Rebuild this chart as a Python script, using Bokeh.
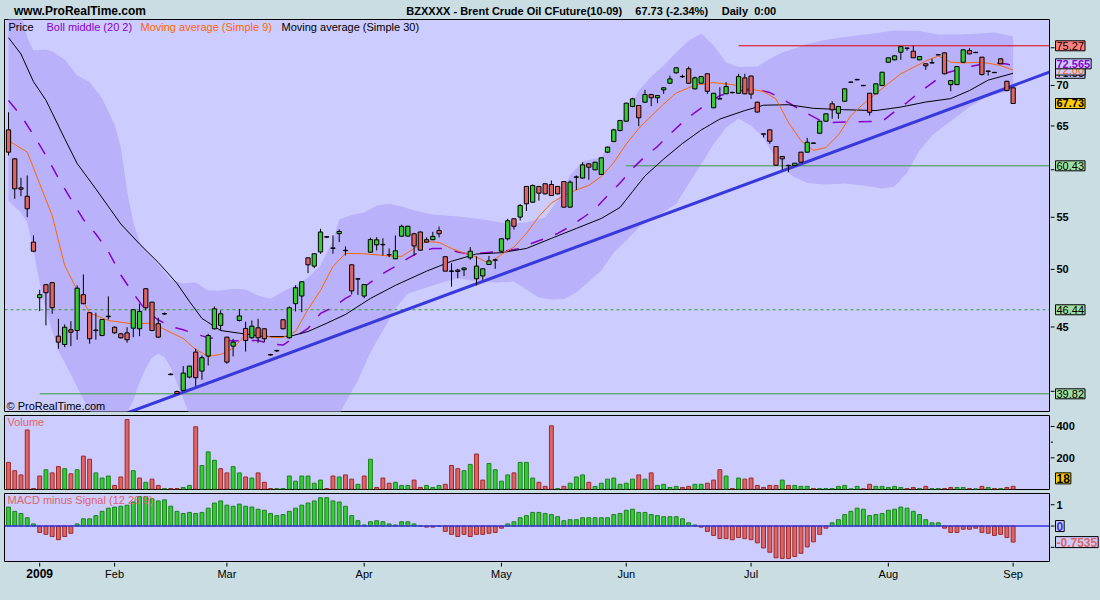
import math
from bokeh.plotting import figure
from bokeh.layouts import column, row
from bokeh.models import (Range1d, Label, Span, ColumnDataSource, GlobalInlineStyleSheet)
from bokeh.core.properties import value
from bokeh.embed import file_html
from bokeh.resources import INLINE

# ---------------- data ----------------
opens = [64.54,61.21,58.05,57.16,52.56,47.47,48.62,48.80,44.25,43.58,
 44.77,44.71,47.74,46.19,44.75,44.30,45.85,44.98,44.44,44.52,
 44.90,44.85,48.26,47.09,45.27,46.08,41.28,39.99,40.07,41.06,
 42.98,41.51,42.67,44.85,45.13,44.17,43.45,45.54,44.88,44.12,
 44.93,44.85,42.79,43.07,45.60,44.12,46.96,47.62,51.07,50.30,
 51.62,53.08,52.00,53.38,51.78,50.42,49.12,47.62,51.60,52.30,
 52.30,51.38,50.98,53.13,53.14,53.37,53.54,52.79,52.79,53.69,
 51.17,49.86,49.93,49.97,51.07,49.15,49.40,50.45,50.85,51.69,
 52.88,54.85,55.02,58.19,56.54,58.19,58.48,58.40,58.19,58.72,
 56.03,59.18,59.09,60.65,59.99,59.48,61.96,63.18,64.46,65.57,
 67.36,67.48,67.89,68.85,68.44,69.44,70.29,71.64,71.13,72.17,
 69.57,70.29,71.51,67.20,68.29,68.94,69.12,69.01,70.98,71.22,
 67.89,64.07,64.54,62.60,61.47,60.48,60.46,61.96,61.96,62.97,
 64.14,65.57,67.69,66.53,68.01,70.40,70.72,70.01,69.01,68.94,
 69.99,73.04,73.36,74.39,74.96,74.53,73.36,72.83,72.94,74.02,
 74.31,70.11,70.11,73.04,74.62,74.33,73.72,71.87,71.70,73.50,
 70.54,69.70]
highs = [66.65,61.30,59.12,59.37,53.21,48.17,48.65,48.85,45.68,45.21,
 45.48,48.56,49.54,46.20,46.19,45.65,47.59,45.05,44.50,44.98,
 46.50,46.96,48.30,47.10,45.77,46.20,41.35,40.05,41.89,41.92,
 43.24,42.72,44.44,46.72,46.38,44.20,44.04,46.51,45.44,45.54,
 45.68,44.90,42.85,43.15,45.65,46.72,48.56,48.95,51.10,51.50,
 53.86,53.15,53.21,53.79,52.14,50.45,49.18,48.65,52.98,53.04,
 52.93,51.95,53.21,54.26,54.15,53.45,53.60,53.01,53.56,54.08,
 51.20,50.57,50.05,50.17,52.08,51.20,50.10,51.24,50.98,52.95,
 54.85,54.90,56.35,58.25,58.40,58.25,58.50,58.83,58.25,58.75,
 58.83,59.37,60.83,60.70,60.88,61.35,62.60,64.67,65.73,67.80,
 68.44,67.50,69.44,68.94,68.75,69.80,71.28,72.40,71.40,72.47,
 71.15,71.20,71.55,69.05,69.77,70.42,69.20,71.51,71.51,71.25,
 67.95,64.10,64.60,62.65,61.50,60.55,60.75,62.00,63.60,63.05,
 65.60,66.50,68.01,67.40,69.60,70.50,70.85,70.05,69.05,70.25,
 71.75,73.70,73.95,75.20,75.00,75.27,73.85,72.90,73.50,74.10,
 74.35,70.70,72.50,74.75,74.94,74.45,73.75,71.90,71.75,73.55,
 70.60,69.75]
lows = [61.59,56.89,57.16,55.01,51.60,46.32,45.13,46.10,43.24,43.37,
 43.45,43.96,46.90,43.64,43.96,44.25,45.62,44.45,44.06,43.72,
 44.17,44.25,46.38,44.65,44.10,46.00,41.20,39.82,40.03,40.96,
 40.37,40.86,41.94,44.80,44.71,42.07,42.64,45.46,43.02,44.04,
 43.72,43.77,42.70,43.00,44.80,44.04,46.30,46.24,49.66,50.11,
 51.45,52.95,51.45,52.56,51.29,47.76,47.72,47.44,51.55,51.76,
 51.29,51.13,50.95,53.10,53.10,51.24,51.75,52.50,52.75,53.01,
 49.80,48.44,49.18,49.40,50.89,48.56,49.06,50.40,50.05,51.57,
 52.72,53.79,54.68,55.64,56.50,56.71,57.35,57.20,57.35,56.00,
 56.00,57.83,59.05,58.91,59.95,59.45,61.85,63.10,64.38,65.50,
 67.27,64.97,67.85,67.40,67.77,68.94,70.20,71.55,70.98,70.25,
 69.50,70.25,68.94,67.15,68.25,68.90,69.00,69.00,68.90,68.31,
 66.60,63.64,62.91,60.45,59.99,59.73,60.43,60.80,61.90,62.95,
 64.10,65.50,65.86,65.86,67.95,70.35,70.68,69.92,66.25,68.90,
 69.95,73.00,73.30,73.36,74.62,73.60,73.30,72.03,72.90,74.00,
 71.45,69.26,70.05,73.00,74.10,74.30,71.28,71.28,71.60,72.80,
 69.30,67.70]
closes = [61.96,57.94,57.90,55.86,51.69,47.74,47.91,46.61,43.77,44.98,
 44.57,48.31,46.96,44.04,44.70,45.62,45.90,44.52,44.12,43.96,
 46.44,46.30,46.61,44.71,44.17,46.12,41.24,39.83,41.36,41.89,
 41.01,42.54,44.30,46.52,46.10,42.20,43.77,45.92,43.90,45.07,
 44.12,44.04,42.75,43.11,44.85,46.61,48.35,48.88,50.42,51.45,
 53.54,53.04,51.96,53.59,51.74,48.07,49.15,48.63,52.80,52.78,
 52.34,51.34,51.73,54.10,54.11,52.19,51.79,52.56,53.11,53.37,
 49.84,49.82,49.81,50.13,51.69,50.30,50.05,50.78,50.88,52.88,
 54.65,54.10,56.20,56.37,58.30,57.48,57.41,57.23,57.41,56.03,
 58.65,59.22,60.54,60.28,60.83,61.32,62.53,64.54,65.65,67.77,
 68.31,65.98,68.85,68.44,68.72,69.70,70.85,72.30,71.17,70.29,
 70.98,71.15,69.26,69.01,68.33,69.86,69.08,71.15,68.94,68.90,
 66.68,64.03,63.21,60.50,61.21,60.44,60.72,60.83,63.10,63.01,
 65.57,66.46,66.95,67.36,69.57,70.44,70.78,69.97,66.65,70.21,
 71.72,73.63,73.90,75.15,74.92,73.63,73.81,72.56,72.98,74.06,
 71.51,70.63,72.47,74.72,74.17,74.37,71.42,71.83,71.66,72.83,
 69.35,67.73]
volume = [171,118,91,378,4,84,124,104,144,131,
 98,124,211,191,104,71,84,24,78,444,
 118,71,44,64,24,4,4,4,11,24,
 398,151,238,184,131,104,144,104,78,71,
 104,44,4,4,4,84,51,84,84,38,
 58,4,84,78,91,64,31,84,191,11,
 71,38,44,24,24,58,11,24,11,24,
 31,151,131,118,158,224,58,164,124,51,
 91,104,171,171,71,44,18,404,4,18,
 38,78,91,44,18,38,64,71,31,38,
 64,91,64,104,24,31,11,18,11,18,
 31,31,38,58,124,84,4,71,64,71,
 24,11,24,24,58,24,24,18,18,4,
 4,4,4,18,24,2,18,2,31,18,
 18,11,18,11,4,11,4,18,4,4,
 4,11,11,11,4,2,18,11,4,4,
 11,18]
macd_hist = [0.89,0.69,0.59,0.39,0.10,-0.30,-0.39,-0.49,-0.64,-0.49,
 -0.34,0.10,0.34,0.34,0.49,0.69,0.84,0.89,0.93,0.98,
 1.13,1.38,1.38,1.28,1.18,1.23,0.93,0.69,0.59,0.64,
 0.59,0.64,0.84,1.08,1.18,0.98,0.93,1.03,0.93,0.89,
 0.79,0.74,0.59,0.49,0.54,0.69,0.84,0.98,1.08,1.18,
 1.33,1.33,1.18,1.13,0.93,0.49,0.25,0.05,0.20,0.25,
 0.20,0.10,0.05,0.20,0.20,0.10,0.01,-0.05,-0.05,0.0,
 -0.25,-0.39,-0.49,-0.39,-0.49,-0.39,-0.39,-0.34,-0.30,-0.10,
 0.10,0.20,0.39,0.49,0.64,0.64,0.59,0.54,0.44,0.25,
 0.30,0.30,0.39,0.39,0.39,0.39,0.39,0.54,0.59,0.74,
 0.79,0.64,0.64,0.54,0.49,0.44,0.44,0.44,0.34,0.15,
 0.05,-0.05,-0.25,-0.44,-0.59,-0.59,-0.64,-0.54,-0.59,-0.64,
 -0.79,-1.03,-1.23,-1.49,-1.52,-1.52,-1.43,-1.28,-0.98,-0.74,
 -0.39,-0.10,0.15,0.30,0.54,0.69,0.84,0.79,0.49,0.54,
 0.59,0.74,0.79,0.89,0.84,0.69,0.54,0.30,0.15,0.15,
 -0.10,-0.30,-0.30,-0.15,-0.15,-0.10,-0.30,-0.34,-0.44,-0.39,
 -0.54,-0.7535]

sma9_idx = [0,3,7,9,11,13,16,20,23,26,28,30,32,34,36,38,40,42,44,46,48,50,52,54,57,61,63,65,67,69,
 71,73,75,77,79,81,83,85,87,89,91,93,95,97,99,101,103,105,107,110,113,116,119,121,123,125,127,129,131,133,
 135,137,139,141,143,145,147,149,151,153,155,157,159,161]
sma9_val = [63.29,61.96,55.18,50.36,48.15,46.17,45.54,45.25,45.33,44.55,44.06,43.19,42.64,42.80,43.27,44.38,44.63,44.15,44.15,44.63,
 46.47,48.11,50.27,51.48,51.45,51.24,51.20,51.95,52.62,52.53,51.95,51.52,51.15,50.54,51.39,52.08,53.40,55.09,56.45,57.23,
 57.82,58.30,59.26,60.80,62.89,64.70,66.19,67.66,69.04,70.03,70.37,70.11,69.54,69.22,68.29,65.41,63.29,62.15,62.49,63.94,
 66.25,67.66,68.97,70.24,71.51,72.34,73.20,73.88,73.07,72.93,73.03,72.91,72.60,72.00]
sma30_idx = [0,2,4,6,9,11,14,16,18,21,24,27,29,31,34,37,41,45,48,51,54,58,62,67,71,75,79,83,87,91,
 95,98,100,102,105,108,111,114,118,121,125,129,134,139,143,147,151,154,157,161]
sma30_val = [76.40,74.15,70.49,68.14,63.52,60.69,57.93,56.10,54.33,52.38,50.64,48.73,47.15,45.71,44.71,44.49,44.22,44.22,44.63,45.31,
 46.04,47.41,48.56,49.84,50.75,51.43,51.55,51.95,52.92,53.89,54.88,56.00,57.65,59.32,61.19,62.95,64.52,65.83,66.86,67.52,
 67.58,67.13,66.96,66.86,67.29,67.91,68.34,69.35,70.69,71.58]
bbm_idx = list(range(0, 161, 2)) + [161]
bbm_val = [68.10,66.25,63.94,61.59,59.09,56.86,54.78,53.35,51.67,49.49,
 47.85,46.38,45.58,45.04,44.77,44.42,44.13,43.98,43.86,43.90,
 43.90,43.62,43.54,44.22,44.88,46.13,46.64,47.41,48.02,48.82,
 49.63,50.27,51.01,51.67,51.95,51.95,51.62,51.39,51.52,51.64,
 51.76,51.95,52.48,52.92,53.40,54.08,54.93,55.84,57.23,58.56,
 60.13,61.47,62.60,64.05,65.41,66.62,67.73,68.72,69.16,69.41,
 69.48,69.10,68.29,67.36,66.50,65.71,65.41,65.47,65.51,65.53,
 65.53,66.74,67.85,69.16,70.30,71.55,72.00,72.47,72.76,72.93,
 72.80,72.565]
bbu_idx = [0,1,2,3,4,6,7,9,11,13,15,17,18,19,20,21,22,24,26,28,30,32,34,36,38,40,42,44,46,48,
 50,52,53,55,57,59,61,63,65,68,72,76,80,83,86,88,90,92,95,97,99,101,103,105,107,109,111,113,115,117,
 120,122,124,126,128,131,134,138,142,146,149,152,155,158,161]
bbu_val = [86.0,83.0,80.0,76.40,74.62,74.75,74.48,73.40,71.28,70.44,68.35,65.17,62.53,57.76,54.48,52.62,51.76,50.45,49.09,48.73,
 48.82,48.11,48.11,48.24,48.20,47.67,47.38,48.02,48.56,49.27,50.36,52.72,54.78,55.23,55.49,56.20,56.37,56.10,55.69,55.28,
 55.09,54.78,54.38,54.48,54.98,56.71,59.37,60.91,61.38,63.64,66.62,69.35,71.15,72.61,74.35,75.99,76.95,75.30,73.00,72.40,
 72.47,73.47,74.35,74.89,75.51,76.12,76.48,76.90,77.39,77.32,76.83,76.83,76.93,77.11,76.55]
bbl_idx = [0,2,3,4,5,6,7,8,9,10,11,12,13,14,16,18,19,20,21,22,23,24,25,26,27,28,29,31,35,40,
 45,50,53,54,56,58,60,62,64,66,69,72,75,78,81,83,85,87,89,91,93,95,97,99,101,103,105,107,109,111,
 113,115,117,119,121,122,124,126,128,131,134,137,140,142,144,146,148,150,152,154,156,158,161]
bbl_val = [56.66,55.49,54.48,51.76,48.73,46.38,44.71,43.11,42.17,41.26,40.32,39.41,38.63,37.90,37.50,38.00,38.50,39.34,40.66,41.72,
 42.56,42.87,42.56,41.79,40.59,39.49,38.30,37.20,36.50,36.20,36.50,37.20,38.30,39.20,40.81,42.96,44.71,46.55,47.85,48.20,
 48.73,49.22,48.91,48.82,48.91,48.20,47.50,47.33,47.37,47.94,48.91,49.90,51.57,52.72,53.98,54.83,55.54,56.35,58.51,60.58,
 62.89,64.82,65.89,65.04,63.64,62.37,60.24,59.15,58.56,58.40,58.51,58.30,57.98,58.19,59.69,62.15,63.87,65.04,66.13,67.30,
 68.22,68.85,69.35]

trend_idx = [19.0, 166.8]
trend_val = [38.45, 71.72]
level_vals = [75.27, 60.43, 46.44, 39.82]
level_from = [117, 99, -1, 5]
level_style = ["red", "green", "greendash", "green"]
month_idx = [5, 17, 35, 57, 79, 99, 119, 141, 161]
month_lbl = ["2009", "Feb", "Mar", "Apr", "May", "Jun", "Jul", "Aug", "Sep"]
price_ticks = [40, 45, 50, 55, 60, 65, 70, 75]
price_tick_lbl = ["", "45", "50", "55", "", "65", "70", ""]
vol_ticks = [200, 300, 400]
vol_tick_lbl = ["200", "", "400"]
macd_ticks = [-1, 0, 1]
macd_tick_lbl = ["", "", "1"]
last_close, last_chg = 67.73, -2.34
bb_last = 72.565
sma9_last = 72.00
sma30_last = 71.58
last_vol = 18
last_macd = -0.7535

# ---------------- layout helpers (pixel geometry of the reference) ----------------
X0, DX = 8.0, 6.24
def ix(px):
    return (px - X0) / DX
def price_at(py):
    return math.exp((2407.2 - py) / 546.6)
def vol_at(py):
    return -2 + (489 - py) * 472.0 / 74.0
def macd_at(py):
    return -1.664 + (561 - py) * 3.192 / 68.0

OUT_BG = "#C9DDE3"
PANEL = "#CCCCFF"
BAND = "#B9B1F9"
GREEN = "#33CC33"
RED = "#E06464"
GREEN_D = "#1E801E"
RED_D = "#9A2A2A"
FONT = "Liberation Sans"

N = len(closes)
idx = list(range(N))
xr = Range1d(ix(4), ix(1049))

COMMON = dict(output_backend="svg", toolbar_location=None,
              x_axis_location=None, y_axis_location=None)

def main_fig(height, yr, top, bottom, ylog=False):
    p = figure(width=1050, height=height, x_range=xr, y_range=yr,
               y_axis_type="log" if ylog else "linear",
               min_border_left=4, min_border_right=1,
               min_border_top=top, min_border_bottom=bottom,
               background_fill_color=PANEL, border_fill_color=OUT_BG,
               outline_line_color="black", outline_line_width=1, **COMMON)
    p.grid.visible = False
    return p

def side_fig(height, yr, top, bottom, ticks, tick_lbls, ylog=False, minor=()):
    s = figure(width=50, height=height, x_range=Range1d(0, 50), y_range=yr,
               y_axis_type="log" if ylog else "linear",
               min_border_left=0, min_border_right=0,
               min_border_top=top, min_border_bottom=bottom,
               background_fill_color=OUT_BG, border_fill_color=OUT_BG,
               outline_line_color=None, **COMMON)
    s.grid.visible = False
    s.segment(x0=[0] * len(ticks), x1=[4] * len(ticks), y0=ticks, y1=ticks,
              line_color="black", line_width=1)
    if minor:
        s.segment(x0=[0] * len(minor), x1=[2.5] * len(minor), y0=list(minor), y1=list(minor),
                  line_color="black", line_width=1)
    s.text(x=[6] * len(ticks), y=ticks, text=tick_lbls, text_font=value(FONT),
           text_font_size="11px", text_font_style="bold", text_color="black",
           text_baseline="middle", text_align="left")
    return s

def label(p, x, y, text, size="11px", color="black", bold=False, fill=None,
          align="left", y_off=0, pad=1):
    kw = dict(x=x, y=y, text=text, text_font=FONT, text_font_size=size,
              text_color=color, text_font_style="bold" if bold else "normal",
              text_align=align, text_baseline="middle", y_offset=y_off)
    if fill is not None:
        kw.update(background_fill_color=fill, border_line_color="black", padding=pad)
    p.add_layout(Label(**kw))

# ---------------- header strip ----------------
hdr = figure(width=1100, height=19, x_range=Range1d(0, 1100), y_range=Range1d(19, 0),
             min_border=0, background_fill_color=OUT_BG, border_fill_color=OUT_BG,
             outline_line_color=None, **COMMON)
hdr.grid.visible = False
hdr.text(x=[10], y=[10], text=["www.ProRealTime.com"], text_font=value(FONT),
         text_font_size="12px", text_font_style="bold", text_baseline="middle")
hdr.text(x=[423, 664, 755],
         y=[10, 10, 10],
         text=["BZXXXX - Brent Crude Oil CFuture(10-09)",
               f"{last_close:.2f} ({last_chg:.2f}%)",
               "Daily\u00a0\u00a00:00"],
         text_font=value(FONT), text_font_size="11px", text_font_style="bold",
         text_baseline="middle")

# ---------------- price panel ----------------
yr1 = Range1d(price_at(411), price_at(19))
p1 = main_fig(393, yr1, 0, 1, ylog=True)

band_x = bbu_idx + bbl_idx[::-1]
band_y = bbu_val + bbl_val[::-1]
p1.patch(band_x, band_y, fill_color=BAND, line_color=None)

xend = xr.end
for v, start, st in zip(level_vals, level_from, level_style):
    s0 = max(start, xr.start)
    if st == "red":
        p1.line([s0, xend], [v, v], line_color="#E00000", line_width=1)
    elif st == "greendash":
        p1.line([s0, xend], [v, v], line_color="#3A9E3A", line_width=1, line_dash="3 3")
    else:
        p1.line([s0, xend], [v, v], line_color="#3A9E3A", line_width=1)

p1.line(bbm_idx, bbm_val, line_color="#8800CC", line_width=1.5, line_dash="13 13")
p1.line(sma30_idx, sma30_val, line_color="black", line_width=1)
p1.line(sma9_idx, sma9_val, line_color="#FF6600", line_width=1)
p1.line(trend_idx, trend_val, line_color="#3838DC", line_width=3)

body_top = [max(o, c) for o, c in zip(opens, closes)]
body_bot = [min(o, c) for o, c in zip(opens, closes)]
cfill = [GREEN if c > o else RED for o, c in zip(opens, closes)]
csrc = ColumnDataSource(dict(x=idx, top=body_top, bottom=body_bot, high=highs, low=lows, fill=cfill))
p1.segment(x0="x", y0="low", x1="x", y1="high", source=csrc, line_color="black", line_width=1)
p1.vbar(x="x", width=0.68, top="top", bottom="bottom", fill_color="fill",
        line_color="black", line_width=1, source=csrc)

ly = price_at(26)
label(p1, ix(8), ly, "Price")
label(p1, ix(46), ly, "Boll middle (20 2)", color="#8800CC")
label(p1, ix(140), ly, "Moving average (Simple 9)", color="#FF6600")
label(p1, ix(281), ly, "Moving average (Simple 30)")
label(p1, ix(6), price_at(405), "\u00a9 ProRealTime.com")

s1 = side_fig(393, yr1, 0, 1, price_ticks, price_tick_lbl, ylog=True)
bx = 5
label(s1, bx, level_vals[0], f"{level_vals[0]:.2f}", fill="#FF8080")
label(s1, bx, sma30_last, f"{sma30_last:.2f}", fill=PANEL)
label(s1, bx, sma9_last, f"{sma9_last:.2f}", color="#FF6600", fill=PANEL)
label(s1, bx, bb_last, f"{bb_last:.3f}", color="#8800CC", bold=True, fill=PANEL, y_off=2)
label(s1, bx, last_close, f"{last_close:.2f}", bold=True, fill="#FFCC00")
for v in level_vals[1:]:
    label(s1, bx, v, f"{v:.2f}", fill="#A0DDA0")

# ---------------- volume panel ----------------
yr2 = Range1d(-2, 470)
p2 = main_fig(78, yr2, 3, 1)
vfill = [RED] + [GREEN if closes[i] > closes[i - 1] else RED for i in range(1, N)]
vline = [RED_D if f == RED else GREEN_D for f in vfill]
vsrc = ColumnDataSource(dict(x=idx, top=volume, fill=vfill, line=vline))
p2.vbar(x="x", width=0.62, top="top", bottom=0, fill_color="fill", line_color="line",
        line_width=1, source=vsrc)
label(p2, ix(7), vol_at(421), "Volume", color=RED)
s2 = side_fig(78, yr2, 3, 1, [vol_ticks[0], vol_ticks[2]], [vol_tick_lbl[0], vol_tick_lbl[2]],
              minor=(vol_ticks[1],))
label(s2, bx, last_vol, str(last_vol), bold=True, fill="#FFCC00", size="12px", y_off=8)

# ---------------- MACD panel ----------------
yr3 = Range1d(-1.664, 1.528)
p3 = main_fig(72, yr3, 3, 1)
mfill = [GREEN if v >= 0 else RED for v in macd_hist]
mline = [GREEN_D if v >= 0 else RED_D for v in macd_hist]
msrc = ColumnDataSource(dict(x=idx, top=macd_hist, fill=mfill, line=mline))
p3.vbar(x="x", width=0.62, top="top", bottom=0, fill_color="fill", line_color="line",
        line_width=1, source=msrc)
p3.add_layout(Span(location=0, dimension="width", line_color="#3333DD", line_width=1.5))
label(p3, ix(7), macd_at(499), "MACD minus Signal (12 26 9)", color=RED)
s3 = side_fig(72, yr3, 3, 1, macd_ticks, macd_tick_lbl)
label(s3, bx, 0, "0", bold=True, color="#3333CC", fill=PANEL, size="12px")
label(s3, bx, last_macd, f"{last_macd:.4f}", bold=True, color=RED, fill=PANEL, size="12px")

# ---------------- date axis strip ----------------
ftr = figure(width=1100, height=38, x_range=xr, y_range=Range1d(38, 0),
             min_border_left=4, min_border_right=51, min_border_top=0, min_border_bottom=0,
             background_fill_color=OUT_BG, border_fill_color=OUT_BG,
             outline_line_color=None, **COMMON)
ftr.grid.visible = False
ftr.segment(x0=month_idx, x1=month_idx, y0=[0] * len(month_idx), y1=[4] * len(month_idx),
            line_color="black", line_width=1)
ftr.text(x=month_idx[1:], y=[11] * (len(month_idx) - 1), text=month_lbl[1:],
         text_font=value(FONT), text_font_size="11px", text_align="center",
         text_baseline="middle", text_color="black")
ftr.text(x=month_idx[:1], y=[11], text=month_lbl[:1], text_font=value(FONT),
         text_font_size="12px", text_font_style="bold", text_align="center",
         text_baseline="middle", text_color="black")

css = GlobalInlineStyleSheet(css="html, body {margin:0; padding:0; background:#C9DDE3; overflow:hidden;}")
layout = column(hdr, row(p1, s1, spacing=0), row(p2, s2, spacing=0),
                row(p3, s3, spacing=0), ftr, spacing=0, stylesheets=[css])

open("out.html", "w").write(file_html(layout, INLINE))
